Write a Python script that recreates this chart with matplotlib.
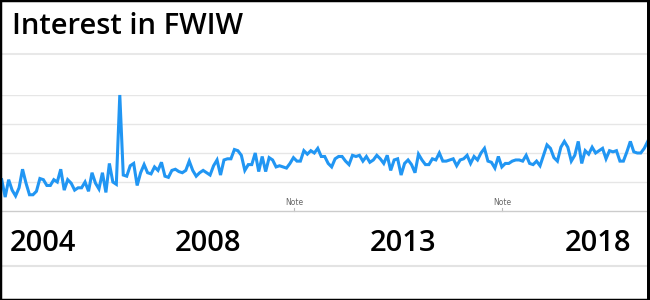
import matplotlib.pyplot as plt
import numpy as np
from matplotlib.lines import Line2D
from matplotlib.patches import Rectangle

# monthly search interest (0-100 scale)
interest = [27, 12, 27, 18, 13, 20, 36, 24, 14, 14, 17, 28, 27, 22, 22, 27, 25, 36, 18, 27,
            24, 18, 20, 20, 25, 17, 33, 24, 19, 33, 16, 41, 25, 23, 100, 31, 30, 39, 41, 22,
            33, 40, 33, 32, 38, 35, 42, 30, 29, 35, 36, 34, 33, 35, 43, 35, 30, 33, 35, 33,
            31, 39, 44, 31, 44, 45, 45, 53, 52, 48, 35, 40, 40, 50, 34, 47, 34, 46, 44, 38,
            39, 38, 37, 41, 46, 43, 43, 52, 49, 52, 50, 54, 47, 47, 41, 38, 45, 47, 47, 43,
            40, 48, 47, 48, 43, 47, 42, 44, 48, 45, 41, 48, 35, 44, 45, 31, 41, 44, 40, 33,
            49, 44, 40, 40, 45, 44, 50, 43, 43, 44, 45, 39, 44, 45, 48, 41, 47, 44, 50, 54,
            43, 42, 37, 47, 38, 41, 41, 43, 44, 44, 43, 48, 41, 40, 43, 39, 48, 57, 54, 46,
            43, 55, 60, 55, 43, 48, 60, 41, 52, 49, 55, 50, 52, 54, 45, 52, 51, 52, 43, 43,
            51, 60, 51, 50, 50, 54, 60]

year_labels = ['2004', '2008', '2013', '2018']
year_pos = [11.9, 59.4, 115.5, 171.7]   # month index where google puts the label
note_pos = [84.2, 144.1]

BLUE = '#2196F3'
W, H = 650, 300

fig = plt.figure(figsize=(6.5, 3.0), dpi=100)
fig.patch.set_facecolor('white')

def fy(py):
    # pixel row from top -> figure fraction
    return 1 - py / H

# plot area: value 0 at y=211px, value 100 at y=95px
ax = fig.add_axes([0, fy(211), 1, fy(95) - fy(211)])
x = np.arange(len(interest))
ax.plot(x, interest, color=BLUE, lw=2.2, solid_joinstyle='miter', clip_on=False, zorder=3)

ax.set_xlim(-0.49, 186.66)
ax.set_ylim(0, 100)
ax.set_yticks([25, 50, 75, 100])
ax.yaxis.grid(True, color='#e6e6e6', lw=1.0)
ax.tick_params(axis='y', left=False, labelleft=False)
for s in ['top', 'left', 'right']:
    ax.spines[s].set_visible(False)
ax.spines['bottom'].set_color('#cccccc')
ax.spines['bottom'].set_linewidth(1.0)

ax.set_xticks(year_pos, year_labels)
ax.tick_params(axis='x', length=0, pad=13)
for lab in ax.get_xticklabels():
    lab.set_fontfamily('Open Sans')
    lab.set_fontweight('semibold')
    lab.set_fontsize(21)
    lab.set_color('black')

# "Note" annotations sitting on the baseline
for n in note_pos:
    ax.plot([n, n], [0, 2.5], color='#bbbbbb', lw=0.8, clip_on=False)
    ax.text(n, 3.5, 'Note', ha='center', va='bottom', fontsize=5.5,
            color='#666666', family='DejaVu Sans')

# title and separator lines
fig.text(12 / W, fy(27), 'Interest in FWIW', fontsize=21, family='Open Sans',
         fontweight='semibold', va='center', ha='left', color='black')
fig.add_artist(Line2D([0, 1], [fy(54), fy(54)], color='#e8e8e8', lw=1.5))
fig.add_artist(Line2D([0, 1], [fy(266), fy(266)], color='#e3e3e3', lw=1.5))

# black frame
fig.add_artist(Rectangle((0, 0), 1, 1, transform=fig.transFigure, fill=False,
                         edgecolor='black', lw=2.5, zorder=10))
fig.add_artist(Rectangle((647 / W, 0), 3 / W, 1, transform=fig.transFigure,
                         facecolor='black', edgecolor='none', zorder=10))

fig.savefig('out.png', dpi=100, facecolor='white')
